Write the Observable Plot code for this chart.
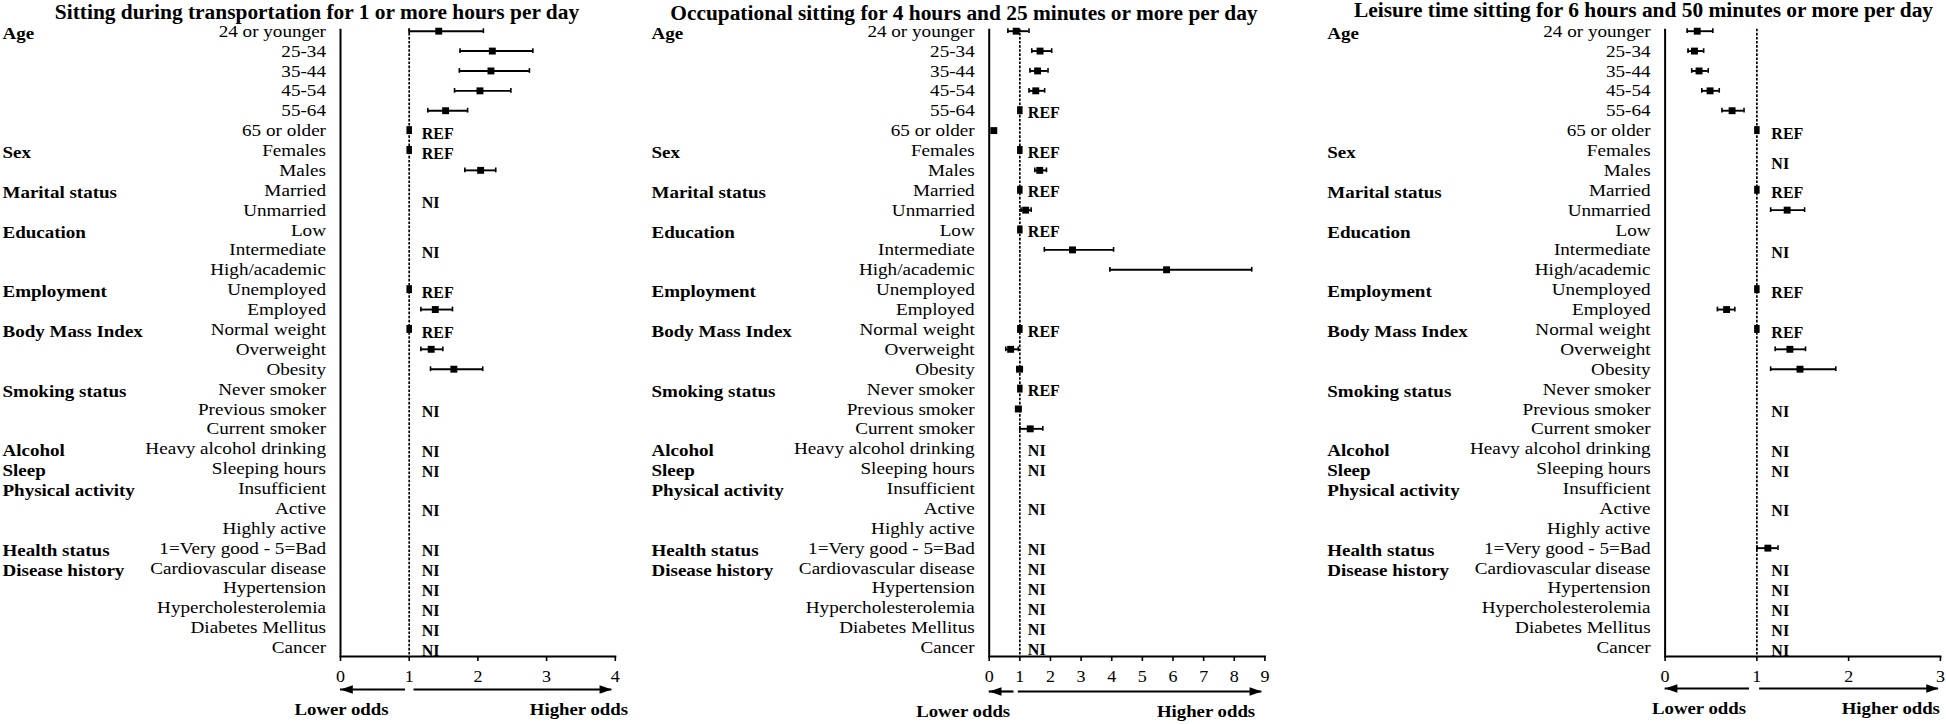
<!DOCTYPE html>
<html><head><meta charset="utf-8">
<script src="https://cdn.jsdelivr.net/npm/d3@7"></script>
<script src="https://cdn.jsdelivr.net/npm/@observablehq/plot@0.6"></script>
<style>
body{margin:0;background:#fff;}
#chart{position:relative;width:1946px;height:724px;overflow:hidden;}
#chart > div{position:absolute;top:0;}
</style></head><body><div id="chart"></div>
<script>
// ---- shared row structure ----
const rows = ["24 or younger","25-34","35-44","45-54","55-64","65 or older",
  "Females","Males","Married","Unmarried","Low","Intermediate","High/academic",
  "Unemployed","Employed","Normal weight","Overweight","Obesity",
  "Never smoker","Previous smoker","Current smoker","Heavy alcohol drinking",
  "Sleeping hours","Insufficient","Active","Highly active","1=Very good - 5=Bad",
  "Cardiovascular disease","Hypertension","Hypercholesterolemia","Diabetes Mellitus","Cancer"];
const groups = ["Age","Sex","Marital status","Education","Employment","Body Mass Index",
  "Smoking status","Alcohol","Sleep","Physical activity","Health status","Disease history"];
const groupSizes = [6,2,2,3,2,3,3,1,1,3,1,5];
const oddsLabels = ["Lower odds","Higher odds"];
const diseaseRows = ["Cardiovascular disease","Hypertension","Hypercholesterolemia","Diabetes Mellitus","Cancer"];

// ---- panel 1: transportation ----
const transportTitle = "Sitting during transportation for 1 or more hours per day";
const transportRows = ["24 or younger","25-34","35-44","45-54","55-64","Males","Employed","Overweight","Obesity"];
const transportOR   = [1.43, 2.21, 2.19, 2.03, 1.53, 2.04, 1.38, 1.32, 1.65];
const transportLow  = [1.00, 1.74, 1.73, 1.66, 1.27, 1.81, 1.17, 1.17, 1.31];
const transportHigh = [2.08, 2.80, 2.75, 2.48, 1.85, 2.26, 1.63, 1.49, 2.07];
const transportRef  = ["65 or older","Females","Unemployed","Normal weight"];
const transportNI   = ["Marital status","Education","Smoking status","Heavy alcohol drinking","Sleeping hours","Physical activity","1=Very good - 5=Bad", ...diseaseRows];
const transportTicks = [0,1,2,3,4];

// ---- panel 2: occupational ----
const occupTitle = "Occupational sitting for 4 hours and 25 minutes or more per day";
const occupRows = ["24 or younger","25-34","35-44","45-54","65 or older","Males","Unmarried","Intermediate","High/academic","Overweight","Obesity","Previous smoker","Current smoker"];
const occupOR   = [0.88, 1.66, 1.58, 1.52, 0.15, 1.65, 1.19, 2.72, 5.79, 0.70, 0.99, 0.95, 1.34];
const occupLow  = [0.61, 1.39, 1.33, 1.30, 0.11, 1.49, 1.04, 1.80, 3.94, 0.54, 0.90, 0.87, 1.00];
const occupHigh = [1.30, 2.04, 1.92, 1.81, 0.19, 1.87, 1.37, 4.06, 8.57, 0.95, 1.08, 1.03, 1.75];
const occupRef  = ["55-64","Females","Married","Low","Normal weight","Never smoker"];
const occupNI   = ["Heavy alcohol drinking","Sleeping hours","Physical activity","1=Very good - 5=Bad", ...diseaseRows];
const occupTicks = [0,1,2,3,4,5,6,7,8,9];

// ---- panel 3: leisure ----
const leisureTitle = "Leisure time sitting for 6 hours and 50 minutes or more per day";
const leisureRows = ["24 or younger","25-34","35-44","45-54","55-64","Unmarried","Employed","Overweight","Obesity","1=Very good - 5=Bad"];
const leisureOR   = [0.35, 0.32, 0.37, 0.49, 0.73, 1.33, 0.67, 1.36, 1.47, 1.12];
const leisureLow  = [0.24, 0.25, 0.29, 0.40, 0.62, 1.15, 0.57, 1.20, 1.15, 1.00];
const leisureHigh = [0.52, 0.42, 0.47, 0.59, 0.86, 1.52, 0.76, 1.53, 1.86, 1.23];
const leisureRef  = ["65 or older","Married","Unemployed","Normal weight"];
const leisureNI   = ["Sex","Education","Smoking status","Heavy alcohol drinking","Sleeping hours","Physical activity", ...diseaseRows];
const leisureTicks = [0,1,2,3];

// ---- helpers ----
const groupStart = groupSizes.map((s, k) => d3.sum(groupSizes.slice(0, k)));
const groupData = groups.map((g, k) => ({name: g, i: groupStart[k]}));
function rowPos(name) {
  const g = groups.indexOf(name);
  if (g >= 0) return groupStart[g] + (groupSizes[g] - 1) / 2;
  return rows.indexOf(name);
}

const panels = [
  {title: transportTitle, rows: transportRows, or: transportOR, lo: transportLow, hi: transportHigh, ref: transportRef, ni: transportNI, ticks: transportTicks},
  {title: occupTitle, rows: occupRows, or: occupOR, lo: occupLow, hi: occupHigh, ref: occupRef, ni: occupNI, ticks: occupTicks},
  {title: leisureTitle, rows: leisureRows, or: leisureOR, lo: leisureLow, hi: leisureHigh, ref: leisureRef, ni: leisureNI, ticks: leisureTicks}
];
const layouts = [
  {offset: 0,    width: 650, left: 340,   right: 614.8, groupX: 2,    titleX: 316.5, titleDy: -17,   noteDx: 12.5, noteDy: 3, arrowDy: 33, arrowL: [0.946, 0], arrowR: [1.07, 3.95], oddsX: [0.015, 3.47], oddsDy: 53},
  {offset: 650,  width: 650, left: 338.7, right: 614.4, groupX: 1,    titleX: 313.4, titleDy: -15.4, noteDx: 8,    noteDy: 2, arrowDy: 35, arrowL: [0.81, 0],  arrowR: [0.95, 8.9],  oddsX: [-0.85, 7.08], oddsDy: 55},
  {offset: 1300, width: 646, left: 364.6, right: 639.9, groupX: 26.8, titleX: 343,   titleDy: -18.7, noteDx: 14.5, noteDy: 3, arrowDy: 32, arrowL: [0.92, 0],  arrowR: [1.03, 2.98], oddsX: [0.37, 2.46],  oddsDy: 52}
];

const FONT = "'Liberation Serif', 'Times New Roman', Times, serif";
const yBottom = rows.length - 0.55;
// font sizes (distinct so each text family can be given its horizontal stretch)
const FS = {title: 20, note: 16, tick: 17.5, row: 17.4, group: 17.6, odds: 16.9};
const STRETCH = {title: 1.07, note: 1.0, tick: 1.03, row: 1.1, group: 1.08, odds: 1.11};

// filled arrowheads, tip at the anchor point
const headRight = {draw(ctx) { ctx.moveTo(0, 0); ctx.lineTo(-12.3, -4.2); ctx.lineTo(-12.3, 4.2); ctx.closePath(); }};
const headLeft  = {draw(ctx) { ctx.moveTo(0, 0); ctx.lineTo(12.3, -4.2); ctx.lineTo(12.3, 4.2); ctx.closePath(); }};

function drawPanel(p, L) {
  const est = p.rows.map((r, k) => ({i: rows.indexOf(r), or: p.or[k], lo: p.lo[k], hi: p.hi[k]}));
  const refs = p.ref.map(r => ({i: rows.indexOf(r)}));
  const notes = [...p.ref.map(r => ({y: rows.indexOf(r), t: "REF"})), ...p.ni.map(n => ({y: rowPos(n), t: "NI"}))];
  const xMax = p.ticks[p.ticks.length - 1];
  const svg = Plot.plot({
    width: L.width, height: 724,
    marginLeft: L.left, marginRight: L.width - L.right, marginTop: 28.7, marginBottom: 68,
    x: {domain: [0, xMax]},
    y: {domain: [-0.1, yBottom], reverse: true},
    style: {fontFamily: FONT, fontSize: "17px", color: "#000", background: "transparent", overflow: "visible"},
    marks: [
      Plot.ruleX([1], {strokeDasharray: "2.6,1.5", strokeWidth: 1.7, stroke: "#000"}),
      Plot.ruleX([0], {strokeWidth: 2, stroke: "#000"}),
      Plot.frame({anchor: "bottom", strokeWidth: 2, stroke: "#000"}),
      Plot.axisX({ticks: p.ticks, tickSize: 5, tickPadding: 8.5, fontSize: FS.tick, label: null, strokeWidth: 1.6, tickFormat: d3.format("d")}),
      Plot.axisY({ticks: d3.range(rows.length), tickFormat: i => rows[i], tickSize: 0, tickPadding: 14.5, label: null, fontSize: FS.row}),
      Plot.text(groupData, {y: "i", text: "name", frameAnchor: "left", textAnchor: "start", lineAnchor: "middle", dx: L.groupX - L.left, dy: 2, fontWeight: "bold", fontSize: FS.group, fill: "#000"}),
      Plot.ruleY(est, {y: "i", x1: "lo", x2: "hi", strokeWidth: 1.9, stroke: "#000"}),
      Plot.ruleX(est, {x: "lo", y1: d => d.i - 0.12, y2: d => d.i + 0.12, strokeWidth: 1.6, stroke: "#000"}),
      Plot.ruleX(est, {x: "hi", y1: d => d.i - 0.12, y2: d => d.i + 0.12, strokeWidth: 1.6, stroke: "#000"}),
      Plot.dot(est, {x: "or", y: "i", symbol: "square", r: 3.9, fill: "#000", stroke: null}),
      Plot.ruleX(refs, {x: 1, y1: d => d.i - 0.2, y2: d => d.i + 0.2, strokeWidth: 5.5, stroke: "#000"}),
      Plot.text(notes, {x: 1, y: "y", text: "t", textAnchor: "start", lineAnchor: "middle", dx: L.noteDx, dy: L.noteDy, fontWeight: "bold", fontSize: FS.note, fill: "#000"}),
      Plot.text([p.title], {frameAnchor: "top-left", lineAnchor: "middle", dx: L.titleX - L.left, dy: L.titleDy, textAnchor: "middle", fontWeight: "bold", fontSize: FS.title, fill: "#000"}),
      Plot.ruleY([L.arrowL], {y: yBottom, x1: d => d[0], x2: d => d[1], dy: L.arrowDy, strokeWidth: 2.2, stroke: "#000"}),
      Plot.ruleY([L.arrowR], {y: yBottom, x1: d => d[0], x2: d => d[1], dy: L.arrowDy, strokeWidth: 2.2, stroke: "#000"}),
      Plot.dot([L.arrowL[1]], {x: d => d, y: yBottom, dy: L.arrowDy, symbol: headLeft, fill: "#000", stroke: null}),
      Plot.dot([L.arrowR[1]], {x: d => d, y: yBottom, dy: L.arrowDy, symbol: headRight, fill: "#000", stroke: null}),
      Plot.text(oddsLabels, {x: (d, k) => L.oddsX[k], frameAnchor: "bottom", lineAnchor: "middle", dy: L.oddsDy, fontWeight: "bold", fontSize: FS.odds, fill: "#000"})
    ]
  });
  // the reference typesetting is slightly wide: stretch each text family horizontally about its anchor
  Object.keys(FS).forEach(key => {
    svg.querySelectorAll(`g[font-size="${FS[key]}"] text`).forEach(t => {
      const tr = t.getAttribute("transform") || "";
      t.setAttribute("transform", tr + ` scale(${STRETCH[key]},1)`);
    });
  });
  return svg;
}

const chart = document.getElementById("chart");
panels.forEach((p, k) => {
  const L = layouts[k];
  const wrap = document.createElement("div");
  wrap.style.left = L.offset + "px";
  wrap.appendChild(drawPanel(p, L));
  chart.appendChild(wrap);
});
</script>
</body></html>
